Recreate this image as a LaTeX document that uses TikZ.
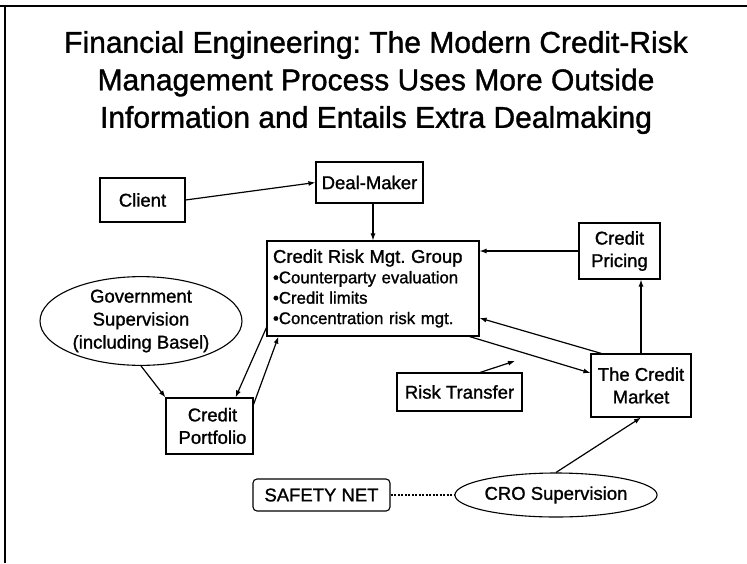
\documentclass[tikz,border=0pt]{standalone}
\usepackage{fontspec}
\setmainfont{Liberation Sans}[BoldFont={Liberation Sans},BoldFeatures={FakeBold=1.2}]
\usetikzlibrary{arrows.meta,shapes.geometric}
\frenchspacing
\begin{document}
\begin{tikzpicture}[x=1pt,y=-1pt,
  box/.style={draw,line width=1.1pt,inner sep=0pt,align=center,font=\bfseries\fontsize{18.5}{22.5}\selectfont},
  oval/.style={draw,ellipse,line width=1.1pt,inner sep=0pt,align=center,font=\bfseries\fontsize{18.5}{23}\selectfont},
  conn/.style={line width=1.2pt,-{Latex[length=7pt,width=5pt]}},
  plain/.style={line width=1.2pt}]
\useasboundingbox (0,0) rectangle (747,563);
% frame
\draw[line width=1.5pt] (0,6) -- (747,6);
\draw[line width=1.5pt] (5,6) -- (5,563);
% title
\node[align=center,font=\bfseries\fontsize{30}{37.5}\selectfont] (title) at (376,82.5)
  {Financial Engineering: The Modern Credit-Risk\\Management Process Uses More Outside\\Information and Entails Extra Dealmaking};
% nodes
\node[box,minimum width=85pt,minimum height=44pt] (client) at (142.5,200) {Client};
\node[box,minimum width=107pt,minimum height=41pt] (deal) at (369.5,182.5) {Deal-Maker};
\node[box,minimum width=212pt,minimum height=95pt,text width=200pt,align=left,
      font=\bfseries\fontsize{16.8}{20.4}\selectfont] (crm) at (373,288.5)
  {{\fontsize{18.5}{20.4}\selectfont Credit Risk Mgt. Group}\\\textbullet Counterparty evaluation\\\textbullet Credit limits\\\textbullet Concentration risk mgt.};
\node[box,minimum width=81pt,minimum height=56pt] (pricing) at (619.5,251) {Credit\\Pricing};
\node[box,minimum width=100pt,minimum height=63pt] (market) at (641,385.5) {The Credit\\Market};
\node[box,minimum width=125pt,minimum height=38pt] (risk) at (459.5,392) {Risk Transfer};
\node[oval,minimum width=202pt,minimum height=86pt] (gov) at (141,321) {Government\\Supervision\\(including Basel)};
\node[box,minimum width=87pt,minimum height=56pt] (portfolio) at (209.5,426) {\hspace*{6pt}Credit\\\hspace*{6pt}Portfolio};
\node[box,rounded corners=4pt,minimum width=137pt,minimum height=32pt] (safety) at (321.5,495) {SAFETY NET};
\node[oval,minimum width=182pt,minimum height=44pt] (cro) at (556,495) {CRO Supervision};
\coordinate (rtend) at (515,361);
% connectors
\draw[conn] (client.east) -- (deal.west);
\draw[conn] (deal.south -| crm.north) -- (crm.north);
\draw[conn] (pricing.west) -- (pricing.west -| crm.east);
\draw[conn] (market.north) -- (market.north |- pricing.south);
\draw[conn] ([xshift=11pt]market.north west) -- ([yshift=-29.5pt]crm.east);
\draw[conn] ([xshift=-10pt]crm.south east) -- ([yshift=12.5pt]market.west);
\draw[conn] ([xshift=20.5pt]risk.north) -- (rtend);
\draw[conn] ([yshift=9pt]crm.south west) -- ([xshift=-18pt]portfolio.north east);
\draw[conn] ([yshift=-7pt]portfolio.north east) -- ([xshift=12pt]crm.south west);
\draw[conn] (gov.south) -- (portfolio.north west);
\draw[conn] (cro.north) -- (market.south);
\draw[line width=1.1pt,dash pattern=on 2pt off 1.5pt] (safety.east) -- (cro.west);
\end{tikzpicture}
\end{document}
